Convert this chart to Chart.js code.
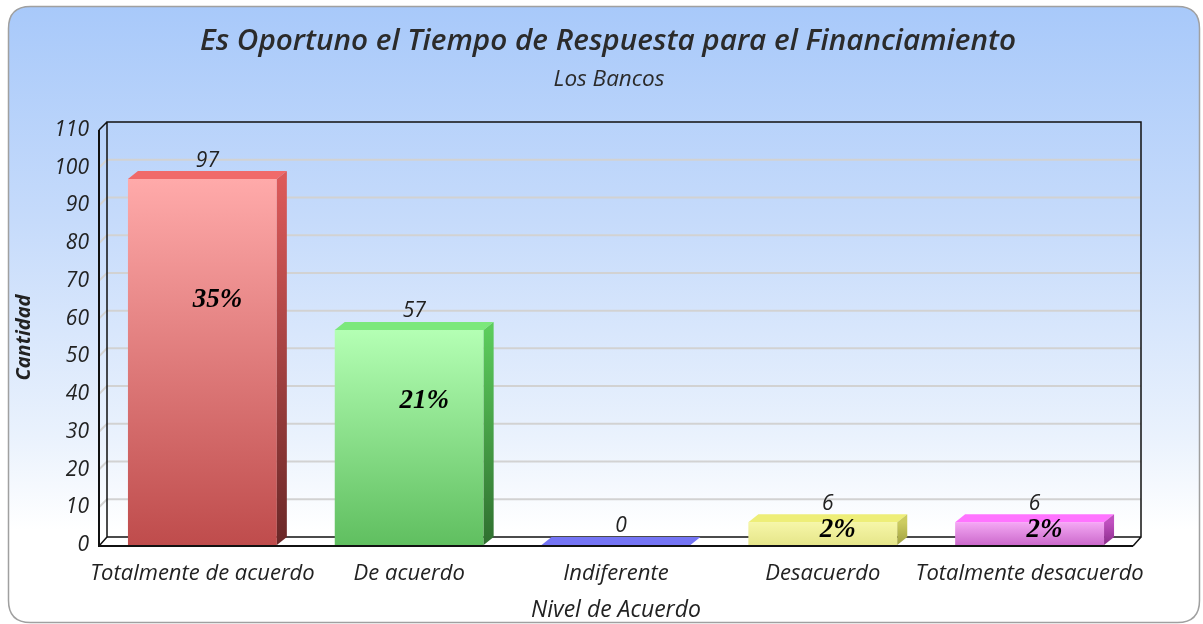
<!DOCTYPE html>
<html>
<head>
<meta charset="utf-8">
<script src="https://cdn.jsdelivr.net/npm/chart.js@4/dist/chart.umd.min.js"></script>
<style>
html,body{margin:0;padding:0;background:#fff;}
#wrap{width:1203px;height:624px;position:relative;}
</style>
</head>
<body>
<div id="wrap"><canvas id="c" width="1203" height="624"></canvas></div>
<script>
const chartTitle = "Es Oportuno el Tiempo de Respuesta para el Financiamiento";
const chartSubtitle = "Los Bancos";
const categories = ["Totalmente de acuerdo", "De acuerdo", "Indiferente", "Desacuerdo", "Totalmente desacuerdo"];
const values = [97, 57, 0, 6, 6];
const percentLabels = ["35%", "21%", "", "2%", "2%"];
const yTickMax = 110;
const yTickStep = 10;

const frontTop = ["#ffaaaa", "#b4ffb4", "#7070f0", "#f6f6a8", "#f4a8f4"];
const frontBottom = ["#bf4c4c", "#60bf60", "#6060e0", "#e6e68a", "#cc6acc"];
const topFace = ["#f06a6a", "#7ce87c", "#7474f4", "#eeee78", "#ff74ff"];
const sideTop = ["#dc5a5a", "#5ccc5c", "#5050c0", "#cccc60", "#c050c0"];
const sideBottom = ["#6a2828", "#2f6f2f", "#303080", "#a0a040", "#8a2c8a"];

const DX = 8, DY = 8;      // frame depth
const BDX = 10, BDY = 8;   // bar depth

function isNum(v) { return typeof v === 'number' && isFinite(v); }

const bgPlugin = {
  id: 'bg',
  beforeDraw(chart) {
    const ctx = chart.ctx;
    ctx.save();
    const x = 8.5, y = 6.5, w = 1191, h = 616, r = 22;
    ctx.beginPath();
    ctx.moveTo(x + r, y);
    ctx.lineTo(x + w - r, y);
    ctx.quadraticCurveTo(x + w, y, x + w, y + r);
    ctx.lineTo(x + w, y + h - r);
    ctx.quadraticCurveTo(x + w, y + h, x + w - r, y + h);
    ctx.lineTo(x + r, y + h);
    ctx.quadraticCurveTo(x, y + h, x, y + h - r);
    ctx.lineTo(x, y + r);
    ctx.quadraticCurveTo(x, y, x + r, y);
    ctx.closePath();
    const g = ctx.createLinearGradient(0, y, 0, y + h);
    g.addColorStop(0, '#a8c9fa');
    g.addColorStop(0.35, '#c6dbfb');
    g.addColorStop(0.7, '#eaf2fd');
    g.addColorStop(0.85, '#ffffff');
    g.addColorStop(1, '#ffffff');
    ctx.fillStyle = g;
    ctx.fill();
    ctx.strokeStyle = '#a0a0a0';
    ctx.lineWidth = 1.5;
    ctx.stroke();
    ctx.fillStyle = '#2b2b2b';
    ctx.textAlign = 'center';
    ctx.textBaseline = 'alphabetic';
    ctx.font = 'italic 600 29.7px "Open Sans"';
    ctx.fillText(chartTitle, 608, 50);
    ctx.font = 'italic 22.5px "Open Sans"';
    ctx.fillText(chartSubtitle, 609, 86);
    ctx.restore();
  }
};

const framePlugin = {
  id: 'frame3d',
  beforeDatasetsDraw(chart) {
    const ctx = chart.ctx;
    const a = chart.chartArea;
    const ys = chart.scales.y;
    ctx.save();
    ctx.beginPath();
    ctx.moveTo(a.left, a.bottom);
    ctx.lineTo(a.left + DX, a.bottom - DY);
    ctx.lineTo(a.right + DX, a.bottom - DY);
    ctx.lineTo(a.right, a.bottom);
    ctx.closePath();
    ctx.fillStyle = '#ffffff';
    ctx.fill();
    ctx.strokeStyle = '#d2d2d2';
    ctx.lineWidth = 2;
    for (let v = yTickStep; v < yTickMax; v += yTickStep) {
      const py = ys.getPixelForValue(v);
      ctx.beginPath();
      ctx.moveTo(a.left, py);
      ctx.lineTo(a.left + DX, py - DY);
      ctx.lineTo(a.right + DX, py - DY);
      ctx.stroke();
    }
    ctx.strokeStyle = '#111';
    ctx.lineWidth = 1.5;
    ctx.beginPath();
    ctx.moveTo(a.left + DX, a.bottom - DY);
    ctx.lineTo(a.left + DX, a.top - DY);
    ctx.lineTo(a.right + DX, a.top - DY);
    ctx.lineTo(a.right + DX, a.bottom - DY);
    ctx.lineTo(a.left + DX, a.bottom - DY);
    ctx.moveTo(a.left, a.top);
    ctx.lineTo(a.left + DX, a.top - DY);
    ctx.moveTo(a.left, a.bottom + 1);
    ctx.lineTo(a.left + DX, a.bottom - DY);
    ctx.moveTo(a.right, a.bottom + 1);
    ctx.lineTo(a.right + DX, a.bottom - DY);
    ctx.stroke();
    ctx.lineWidth = 2;
    ctx.beginPath();
    ctx.moveTo(a.left, a.top);
    ctx.lineTo(a.left, a.bottom + 1);
    ctx.lineTo(a.right, a.bottom + 1);
    ctx.stroke();
    ctx.restore();
  }
};

const barPlugin = {
  id: 'bar3d',
  afterDatasetsDraw(chart) {
    const ctx = chart.ctx;
    const meta = chart.getDatasetMeta(0);
    ctx.save();
    meta.data.forEach((bar, i) => {
      const w = bar.width;
      const l = bar.x - w / 2, r = bar.x + w / 2;
      const t = bar.y, b = bar.base;
      ctx.beginPath();
      ctx.moveTo(l, t);
      ctx.lineTo(l + BDX, t - BDY);
      ctx.lineTo(r + BDX, t - BDY);
      ctx.lineTo(r, t);
      ctx.closePath();
      ctx.fillStyle = topFace[i];
      ctx.fill();
      if (b - t > 0.5) {
        const g = ctx.createLinearGradient(0, t, 0, b);
        g.addColorStop(0, sideTop[i]);
        g.addColorStop(1, sideBottom[i]);
        ctx.beginPath();
        ctx.moveTo(r, t);
        ctx.lineTo(r + BDX, t - BDY);
        ctx.lineTo(r + BDX, b - BDY);
        ctx.lineTo(r, b);
        ctx.closePath();
        ctx.fillStyle = g;
        ctx.fill();
      }
      ctx.fillStyle = '#222';
      ctx.font = 'italic 21px "Open Sans"';
      ctx.textAlign = 'center';
      ctx.textBaseline = 'bottom';
      ctx.fillText(String(values[i]), bar.x + BDX / 2, t - BDY);
      if (percentLabels[i]) {
        ctx.font = 'italic bold 27px "Liberation Serif"';
        ctx.fillStyle = '#000';
        ctx.textBaseline = 'middle';
        const py = t + (b - t) * 0.33;
        ctx.fillText(percentLabels[i], bar.x + 15, py);
      }
    });
    ctx.restore();
  }
};

new Chart(document.getElementById('c'), {
  type: 'bar',
  data: {
    labels: categories,
    datasets: [{
      data: values,
      backgroundColor(ctx) {
        const chart = ctx.chart;
        const a = chart.chartArea;
        const i = ctx.dataIndex;
        const ys = chart.scales.y;
        if (!a || !ys || i === undefined) return frontTop[i || 0];
        const top = ys.getPixelForValue(values[i]);
        const bottom = ys.getPixelForValue(0);
        if (!isNum(top) || !isNum(bottom) || bottom - top < 1) return frontTop[i];
        const g = chart.ctx.createLinearGradient(0, top, 0, bottom);
        g.addColorStop(0, frontTop[i]);
        g.addColorStop(1, frontBottom[i]);
        return g;
      },
      borderWidth: 0,
      barPercentage: 0.72,
      categoryPercentage: 1.0
    }]
  },
  options: {
    responsive: false,
    animation: false,
    layout: { padding: { top: 130, left: 0, right: 70, bottom: 0 } },
    plugins: {
      legend: { display: false },
      tooltip: { enabled: false },
      title: { display: false },
      subtitle: { display: false }
    },
    scales: {
      x: {
        grid: { display: false, drawTicks: false },
        border: { display: false },
        afterFit(scale) { scale.height = 79; },
        ticks: {
          color: '#222',
          padding: 16,
          font: { family: '"Open Sans"', size: 22, style: 'italic' },
          maxRotation: 0, autoSkip: false
        },
        title: {
          display: true,
          text: 'Nivel de Acuerdo',
          color: '#222',
          font: { family: '"Open Sans"', size: 23, style: 'italic' },
          padding: { top: 0, bottom: 0 }
        }
      },
      y: {
        min: 0,
        max: yTickMax,
        grid: { display: false, drawTicks: false },
        border: { display: false },
        afterFit(scale) { scale.width = 99; },
        ticks: {
          stepSize: yTickStep,
          color: '#222',
          padding: 10,
          font: { family: '"Open Sans"', size: 21, style: 'italic' }
        },
        title: {
          display: true,
          text: 'Cantidad',
          color: '#222',
          font: { family: '"Open Sans"', size: 20, style: 'italic', weight: 'bold' },
          padding: { top: 12, bottom: 0 }
        }
      }
    }
  },
  plugins: [bgPlugin, framePlugin, barPlugin]
});
</script>
</body>
</html>
